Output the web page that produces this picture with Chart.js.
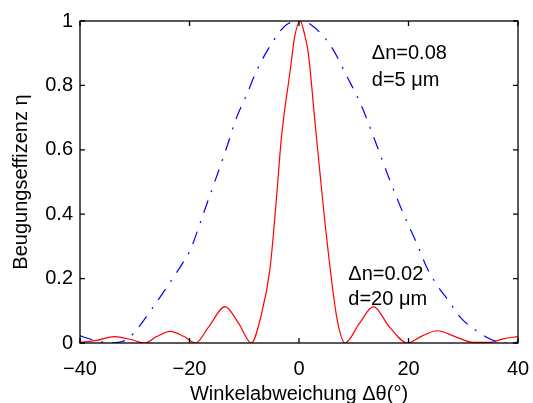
<!DOCTYPE html>
<html>
<head>
<meta charset="utf-8">
<script src="https://cdn.jsdelivr.net/npm/chart.js@4"></script>
<style>
  body { margin: 0; background: #fff; }
  #wrap { width: 533px; height: 403px; }
</style>
</head>
<body>
<div id="wrap"><canvas id="chart" width="533" height="403"></canvas></div>
<script>
// red curve: dn=0.02, d=20um
const redX = [-40, -37, -33.7, -30.5, -28.2, -26, -23.5, -21, -18.9, -16.5, -13.5, -11, -8.7, -7, -5.3, -4.1, -3.2, -1.6, -0.8, 0.2, 1.0, 1.7, 2.9, 4.4, 5.7, 7, 8.4, 11, 13.6, 16.5, 19.8, 22.5, 25.3, 28.5, 31.8, 35, 37.3, 40];
const redY = [0.002, 0.008, 0.02, 0.01, 0.0, 0.02, 0.036, 0.02, 0.0, 0.05, 0.113, 0.06, 0.0, 0.08, 0.23, 0.453, 0.64, 0.847, 0.95, 1.0, 0.96, 0.9, 0.69, 0.43, 0.23, 0.07, 0.0, 0.06, 0.113, 0.05, 0.0, 0.022, 0.038, 0.02, 0.002, 0.002, 0.013, 0.02];

// blue dash-dot curve: dn=0.08, d=5um
const blueX = [-40, -38.5, -36.5, -34.5, -32.5, -31.3, -29.4, -25, -21, -19.9, -17.5, -15.3, -13.2, -11.4, -9.6, -7.7, -5, -2.4, 0.5, 1.4, 5.7, 9, 11.5, 14.2, 16.6, 19.1, 21.8, 23.3, 25.4, 27.2, 29.6, 32.7, 35.1, 37.4, 40];
const blueY = [0.022, 0.014, 0.005, 0.0, 0.004, 0.012, 0.047, 0.152, 0.255, 0.287, 0.40, 0.505, 0.608, 0.70, 0.769, 0.847, 0.93, 0.987, 1.0, 0.997, 0.925, 0.82, 0.733, 0.614, 0.505, 0.40, 0.298, 0.236, 0.175, 0.134, 0.077, 0.035, 0.011, 0.0, 0.003];

const xTicks = [-40, -20, 0, 20, 40];
const xTickLabels = ['\u221240', '\u221220', '0', '20', '40'];
const yTicks = [0, 0.2, 0.4, 0.6, 0.8, 1];
const yTickLabels = ['0', '0.2', '0.4', '0.6', '0.8', '1'];

// text labels placed in data coordinates
const notes = [
  { x: 13.3, y: 0.90, text: 'Δn=0.08' },
  { x: 13.3, y: 0.816, text: 'd=5 μm' },
  { x: 9.0, y: 0.214, text: 'Δn=0.02' },
  { x: 9.0, y: 0.135, text: 'd=20 μm' }
];

const FONT = 'Liberation Sans, Arial, Helvetica, sans-serif';

const toPoints = (xs, ys) => xs.map((x, i) => ({ x, y: ys[i] }));

// MATLAB style box with inward ticks on all four sides
const frame = {
  id: 'frame',
  afterDraw(chart) {
    const { ctx, chartArea: a, scales: { x, y } } = chart;
    const len = 5;
    ctx.save();
    ctx.strokeStyle = '#000';
    ctx.lineWidth = 1.3;
    ctx.strokeRect(a.left, a.top, a.right - a.left, a.bottom - a.top);
    ctx.beginPath();
    for (const v of xTicks) {
      const px = x.getPixelForValue(v);
      ctx.moveTo(px, a.bottom); ctx.lineTo(px, a.bottom - len);
      ctx.moveTo(px, a.top); ctx.lineTo(px, a.top + len);
    }
    for (const v of yTicks) {
      const py = y.getPixelForValue(v);
      ctx.moveTo(a.left, py); ctx.lineTo(a.left + len, py);
      ctx.moveTo(a.right, py); ctx.lineTo(a.right - len, py);
    }
    ctx.stroke();

    ctx.fillStyle = '#000';
    ctx.font = '20px ' + FONT;
    ctx.textBaseline = 'middle';
    ctx.textAlign = 'left';
    for (const n of notes) {
      ctx.fillText(n.text, x.getPixelForValue(n.x), y.getPixelForValue(n.y));
    }
    ctx.restore();
  }
};

new Chart(document.getElementById('chart'), {
  type: 'line',
  data: {
    datasets: [
      {
        data: toPoints(blueX, blueY),
        borderColor: '#0000ff',
        borderWidth: 1.2,
        borderDash: [13, 9, 2, 9],
        pointRadius: 0,
        cubicInterpolationMode: 'monotone',
        fill: false
      },
      {
        data: toPoints(redX, redY),
        borderColor: '#ff0000',
        borderWidth: 1.2,
        pointRadius: 0,
        cubicInterpolationMode: 'monotone',
        fill: false
      }
    ]
  },
  options: {
    responsive: false,
    animation: false,
    devicePixelRatio: 1,
    layout: { padding: { top: 21, right: 15, left: 0, bottom: 0 } },
    plugins: { legend: { display: false }, tooltip: { enabled: false } },
    scales: {
      x: {
        type: 'linear',
        min: -40, max: 40,
        afterFit: s => { s.height = 60; s.paddingLeft = 0; s.paddingRight = 0; },
        afterBuildTicks: s => { s.ticks = xTicks.map(v => ({ value: v })); },
        grid: { display: false, drawTicks: false },
        border: { display: false },
        ticks: {
          color: '#000', padding: 14,
          font: { family: FONT, size: 20 },
          maxRotation: 0,
          callback: (v, i) => xTickLabels[i]
        },
        title: {
          display: true, text: 'Winkelabweichung Δθ(°)', color: '#000',
          font: { family: FONT, size: 20 }, padding: { top: 0, bottom: -3 }
        }
      },
      y: {
        type: 'linear',
        min: 0, max: 1,
        afterFit: s => { s.width = 80; },
        afterBuildTicks: s => { s.ticks = yTicks.map(v => ({ value: v })); },
        grid: { display: false, drawTicks: false },
        border: { display: false },
        ticks: {
          color: '#000', padding: 7,
          font: { family: FONT, size: 20 },
          callback: (v, i) => yTickLabels[i]
        },
        title: {
          display: true, text: 'Beugungseffizenz η', color: '#000',
          font: { family: FONT, size: 20 }, padding: { top: 9, bottom: 6 }
        }
      }
    }
  },
  plugins: [frame]
});
</script>
</body>
</html>
